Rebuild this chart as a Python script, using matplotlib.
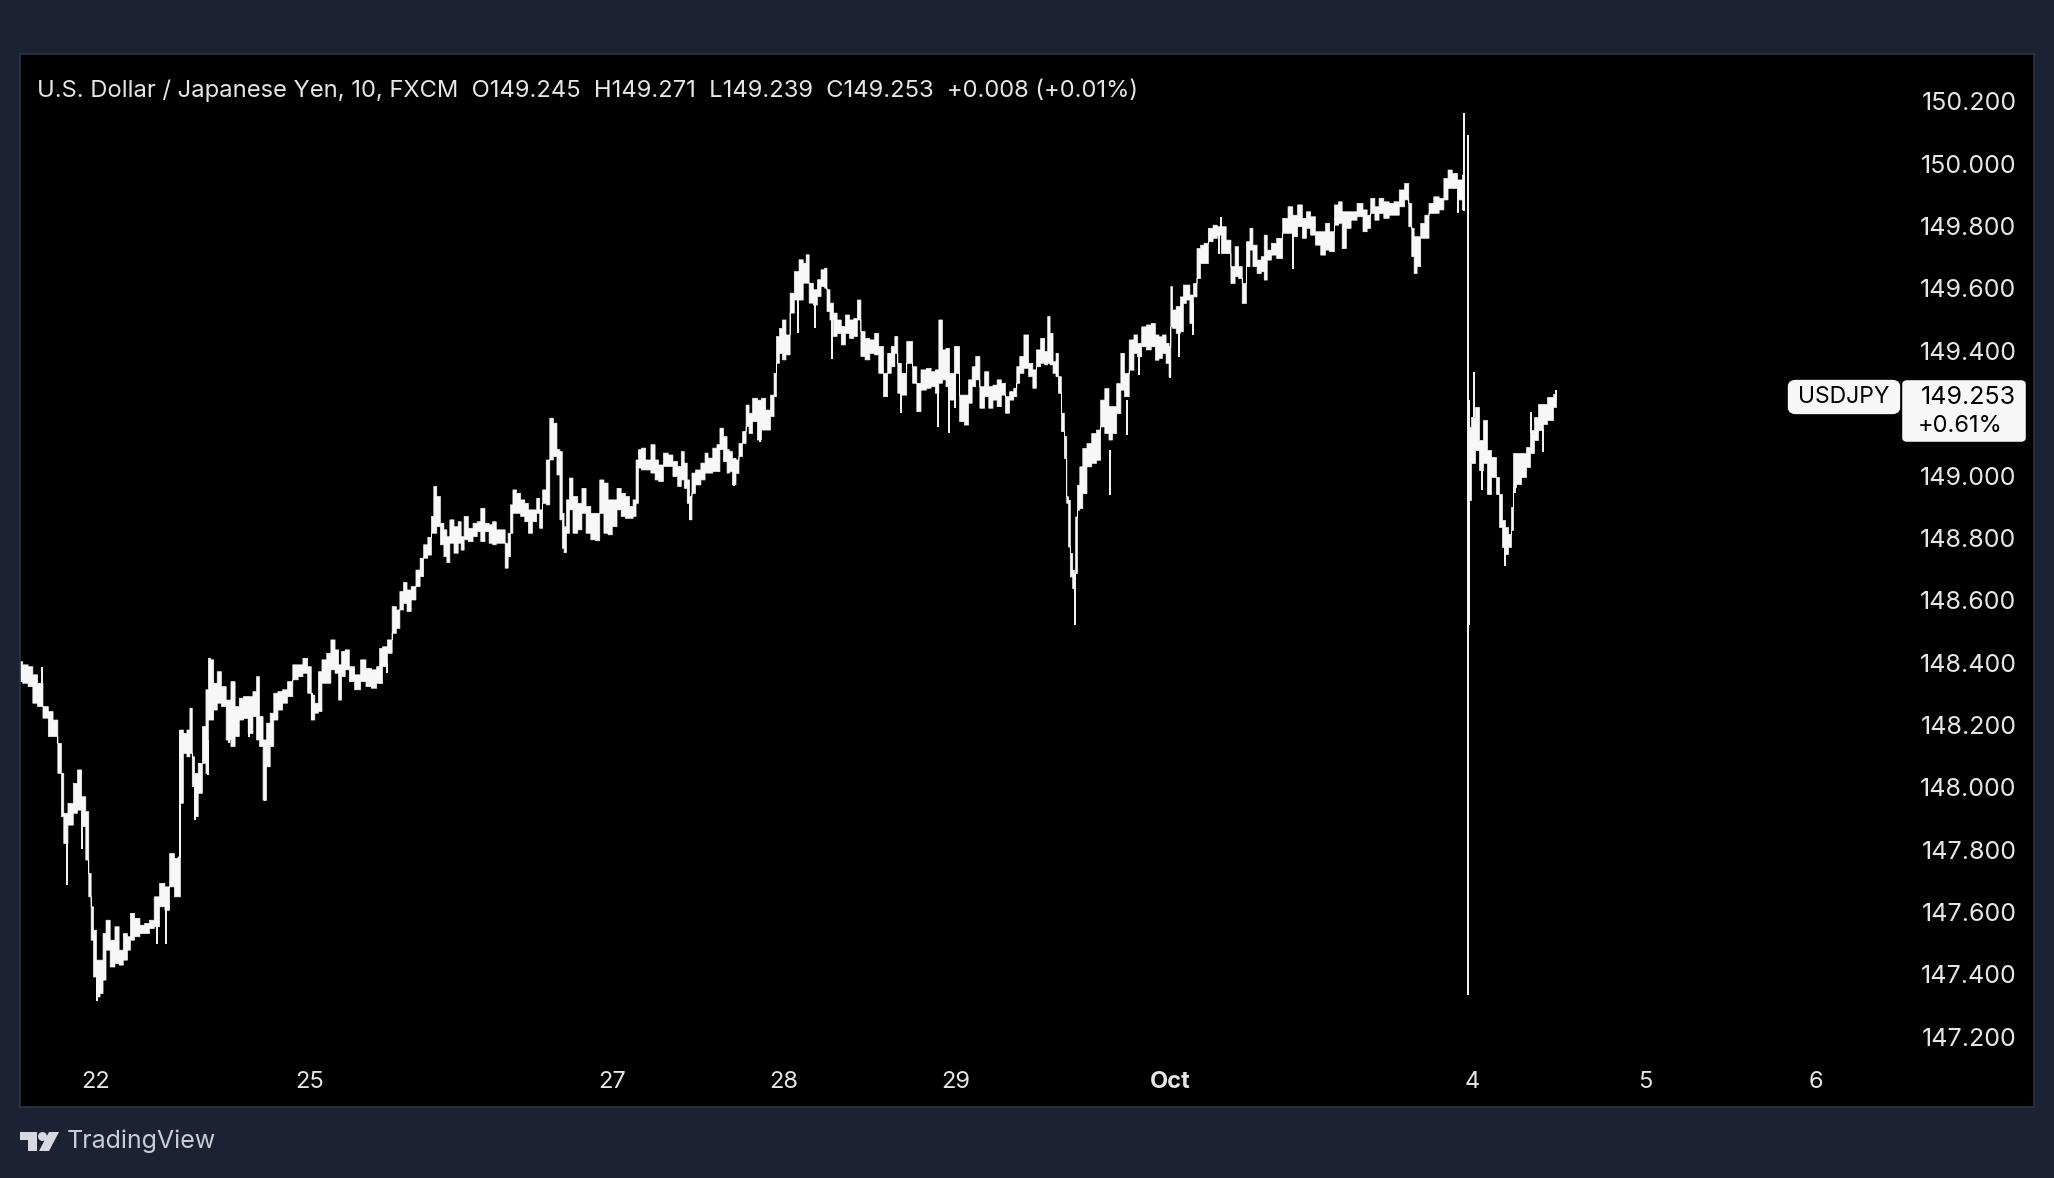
import matplotlib
matplotlib.use("Agg")
import matplotlib.pyplot as plt
import numpy as np
from matplotlib.patches import Circle, FancyBboxPatch, Polygon

plt.rcParams['font.family'] = ['Inter', 'DejaVu Sans']

# 10 minute bars, x is the bar number counted from the "22" tick
body_bar = [-64, -59, -55, -51, -47, -42, -38, -34, -30, -28, -26, -21, -17, -14, -10, -7, -5, -3, -1, 2,
            5, 7, 10, 14, 18, 21, 25, 28, 30, 35, 39, 43, 47, 51, 56, 60, 64, 68, 70, 72,
            75, 78, 80, 82, 84, 88, 91, 94, 95, 98, 100, 104, 107, 112, 115, 119, 122, 126, 130, 134,
            136, 139, 142, 145, 148, 151, 155, 159, 163, 168, 172, 176, 180, 182, 186, 188, 192, 196, 199, 203,
            205, 208, 211, 215, 220, 225, 229, 234, 238,
            239, 243, 247, 251, 254, 257, 260, 263, 267, 271, 274, 277, 281, 283, 285, 288, 291, 294, 296, 299,
            303, 306, 308, 311, 315, 319, 322, 325, 329, 332, 335, 338, 343, 345, 348, 349, 352, 355, 359, 362,
            365, 369, 372, 374, 377, 380, 383, 386, 389, 391, 393, 394, 397, 399, 403, 407, 410, 414, 418, 422,
            425, 429, 432, 436, 440, 443, 447, 450, 453, 455, 457, 460, 464, 469, 471, 475, 479, 483, 487, 491,
            493, 496, 498, 500, 502, 506, 511, 513, 516, 521, 523, 526, 529, 532,
            533, 537, 539, 542, 545, 548, 550, 554, 558, 561, 565, 569, 571, 573, 576, 578, 582, 585, 589, 593,
            596, 598, 601, 605, 608, 611, 614, 615, 619, 621, 625, 628, 632, 635, 639, 641, 645, 648, 653, 656,
            660, 664, 667, 670, 673, 675, 679, 684, 689, 691, 696, 700, 704, 707, 710, 713, 716, 719, 724, 728,
            732, 735, 738, 741, 745, 749, 752, 756, 759, 763, 766, 770, 773, 775, 778, 782, 786, 789, 792, 796,
            799, 801, 803, 806, 808, 810, 813, 815, 817,
            818, 820, 822, 823, 824, 826, 828, 831, 835, 839, 843, 846, 850, 853, 856, 860, 863, 866, 871, 874,
            877, 881, 885, 889, 892, 895, 898, 901, 903, 904, 906, 910,
            913, 915, 918, 921, 924, 927, 930, 933, 937, 941, 944, 948, 952, 956, 959, 962, 965, 969, 971, 974,
            978, 981, 983, 986, 990, 995, 1000, 1004, 1008, 1012, 1016, 1019, 1023, 1027, 1032, 1035, 1039, 1043, 1046, 1049,
            1053, 1057, 1063, 1067, 1070, 1073, 1077, 1080, 1085, 1089, 1093, 1098, 1102, 1105, 1107, 1109, 1112, 1115, 1119, 1122,
            1127, 1131, 1135, 1138, 1142, 1147, 1150, 1151,
            1154, 1158, 1161, 1164, 1168, 1171, 1175, 1178, 1181, 1183, 1185, 1188, 1190, 1192, 1196, 1200, 1204, 1207, 1210, 1214,
            1218, 1222, 1227]
body_high = [148.403, 148.393, 148.387, 148.361, 148.334, 148.259, 148.243, 148.216, 148.141, 148.045, 147.917, 147.949, 148.013, 148.056, 147.970, 147.922, 147.724, 147.617, 147.542, 147.446,
             147.446, 147.531, 147.574, 147.510, 147.553, 147.478, 147.531, 147.521, 147.596, 147.580, 147.558, 147.564, 147.574, 147.649, 147.692, 147.681, 147.788, 147.772, 147.777, 148.184,
             148.173, 148.184, 148.254, 148.098, 148.045, 148.077, 148.195, 148.313, 148.414, 148.409, 148.334, 148.371, 148.323, 148.280, 148.339, 148.259, 148.286, 148.291, 148.291, 148.307,
             148.355, 148.227, 148.152, 148.206, 148.238, 148.302, 148.307, 148.313, 148.339, 148.393, 148.393, 148.414, 148.387, 148.296, 148.270, 148.371, 148.409, 148.430, 148.473, 148.441,
             148.393, 148.436, 148.441, 148.387, 148.361, 148.409, 148.382, 148.377, 148.387,
             148.446, 148.451, 148.473, 148.580, 148.569, 148.628, 148.657, 148.633, 148.644, 148.697, 148.735, 148.778, 148.802, 148.869, 148.965, 148.933, 148.847, 148.826, 148.804, 148.858,
             148.836, 148.852, 148.804, 148.869, 148.831, 148.847, 148.852, 148.895, 148.847, 148.842, 148.852, 148.826, 148.826, 148.783, 148.815, 148.906, 148.954, 148.943, 148.922, 148.911,
             148.890, 148.890, 148.927, 148.890, 148.954, 149.050, 149.184, 149.168, 149.083, 149.077, 148.879, 148.836, 148.922, 148.992, 148.933, 148.911, 148.959, 148.901, 148.879, 148.879,
             148.986, 148.976, 148.922, 148.922, 148.959, 148.943, 148.933, 148.901, 148.922, 149.050, 149.083, 149.088, 149.050, 149.099, 149.050, 149.034, 149.072, 149.066, 149.045, 149.029,
             149.077, 149.040, 148.986, 148.933, 149.008, 149.018, 149.040, 149.072, 149.056, 149.088, 149.099, 149.152, 149.125, 149.083,
             149.077, 149.055, 149.050, 149.103, 149.141, 149.226, 149.200, 149.248, 149.242, 149.248, 149.210, 149.258, 149.328, 149.446, 149.472, 149.499, 149.451, 149.585, 149.654, 149.692,
             149.681, 149.708, 149.617, 149.596, 149.628, 149.660, 149.665, 149.596, 149.553, 149.521, 149.499, 149.478, 149.515, 149.499, 149.504, 149.563, 149.462, 149.440, 149.435, 149.456,
             149.414, 149.328, 149.392, 149.414, 149.446, 149.360, 149.328, 149.430, 149.349, 149.296, 149.339, 149.344, 149.333, 149.339, 149.499, 149.403, 149.408, 149.328, 149.414, 149.258,
             149.258, 149.307, 149.349, 149.382, 149.285, 149.333, 149.285, 149.290, 149.307, 149.296, 149.253, 149.269, 149.280, 149.349, 149.382, 149.451, 149.360, 149.339, 149.403, 149.440,
             149.398, 149.510, 149.456, 149.365, 149.392, 149.317, 149.200, 149.125, 148.932,
             148.921, 148.750, 148.696, 148.686, 148.867, 148.969, 149.028, 149.087, 149.103, 149.135, 149.146, 149.242, 149.279, 149.221, 149.221, 149.295, 149.392, 149.328, 149.435, 149.451,
             149.424, 149.477, 149.483, 149.488, 149.451, 149.445, 149.451, 149.424, 149.413, 149.606, 149.531, 149.542,
             149.573, 149.611, 149.611, 149.579, 149.616, 149.728, 149.739, 149.745, 149.793, 149.803, 149.798, 149.798, 149.755, 149.670, 149.734, 149.670, 149.616, 149.750, 149.793, 149.739,
             149.691, 149.702, 149.771, 149.723, 149.745, 149.761, 149.825, 149.862, 149.835, 149.868, 149.825, 149.846, 149.830, 149.782, 149.782, 149.809, 149.782, 149.868, 149.878, 149.846,
             149.846, 149.846, 149.873, 149.852, 149.835, 149.889, 149.862, 149.889, 149.878, 149.873, 149.878, 149.916, 149.937, 149.873, 149.793, 149.766, 149.766, 149.809, 149.835, 149.873,
             149.894, 149.889, 149.953, 149.980, 149.969, 149.948, 149.964, np.nan,
             149.156, 149.189, 149.221, 149.114, 149.178, 149.081, 149.060, 148.996, 148.942, 148.857, 148.835, 148.814, 148.900, 149.071, 149.071, 149.071, 149.092, 149.146, 149.189, 149.231,
             149.231, 149.253, 149.263]
body_low = [148.339, 148.334, 148.323, 148.270, 148.259, 148.222, 148.163, 148.163, 148.045, 147.906, 147.820, 147.879, 147.917, 147.927, 147.874, 147.767, 147.649, 147.510, 147.392, 147.328,
            147.339, 147.382, 147.478, 147.424, 147.435, 147.430, 147.446, 147.478, 147.510, 147.521, 147.531, 147.531, 147.547, 147.553, 147.617, 147.606, 147.681, 147.649, 147.649, 147.949,
            148.109, 148.098, 148.109, 148.002, 147.906, 147.981, 148.077, 148.045, 148.216, 148.216, 148.248, 148.270, 148.259, 148.152, 148.131, 148.163, 148.216, 148.221, 148.173, 148.227,
            148.152, 148.131, 147.959, 148.066, 148.131, 148.216, 148.248, 148.270, 148.291, 148.345, 148.355, 148.366, 148.302, 148.216, 148.238, 148.243, 148.334, 148.334, 148.377, 148.366,
            148.280, 148.355, 148.377, 148.339, 148.313, 148.339, 148.323, 148.318, 148.334,
            148.333, 148.387, 148.430, 148.494, 148.510, 148.569, 148.590, 148.564, 148.601, 148.644, 148.676, 148.735, 148.745, 148.815, 148.815, 148.836, 148.778, 148.740, 148.721, 148.783,
            148.751, 148.783, 148.761, 148.794, 148.788, 148.804, 148.820, 148.788, 148.820, 148.783, 148.778, 148.783, 148.783, 148.703, 148.740, 148.815, 148.879, 148.879, 148.869, 148.852,
            148.815, 148.852, 148.879, 148.831, 148.911, 148.906, 149.050, 149.061, 149.002, 148.858, 148.767, 148.753, 148.815, 148.890, 148.815, 148.826, 148.879, 148.815, 148.794, 148.791,
            148.879, 148.815, 148.810, 148.836, 148.890, 148.869, 148.863, 148.863, 148.869, 148.911, 149.024, 149.018, 149.018, 149.008, 148.986, 148.981, 149.029, 149.029, 148.997, 148.965,
            148.986, 148.959, 148.911, 148.858, 148.943, 148.970, 148.986, 149.008, 149.008, 149.013, 149.013, 149.083, 149.045, 149.008,
            149.012, 148.970, 149.007, 149.061, 149.103, 149.157, 149.135, 149.173, 149.114, 149.146, 149.146, 149.189, 149.253, 149.360, 149.392, 149.371, 149.387, 149.521, 149.563, 149.563,
            149.617, 149.617, 149.553, 149.547, 149.574, 149.606, 149.601, 149.526, 149.499, 149.446, 149.456, 149.419, 149.456, 149.440, 149.446, 149.499, 149.382, 149.371, 149.392, 149.387,
            149.328, 149.253, 149.328, 149.349, 149.392, 149.264, 149.258, 149.360, 149.296, 149.205, 149.274, 149.280, 149.285, 149.264, 149.296, 149.307, 149.285, 149.242, 149.328, 149.173,
            149.162, 149.232, 149.285, 149.307, 149.216, 149.253, 149.216, 149.242, 149.221, 149.258, 149.200, 149.242, 149.253, 149.296, 149.328, 149.344, 149.317, 149.280, 149.349, 149.360,
            149.355, 149.360, 149.355, 149.328, 149.317, 149.264, 149.141, 149.055, 148.911,
            148.771, 148.675, 148.637, 148.632, 148.686, 148.889, 148.894, 148.942, 149.028, 149.039, 149.049, 149.156, 149.135, 149.114, 149.135, 149.199, 149.274, 149.253, 149.338, 149.392,
            149.381, 149.413, 149.403, 149.413, 149.370, 149.376, 149.392, 149.360, 149.317, 149.477, 149.472, 149.456,
            149.461, 149.552, 149.563, 149.488, 149.573, 149.632, 149.680, 149.680, 149.750, 149.761, 149.771, 149.712, 149.712, 149.616, 149.638, 149.632, 149.552, 149.670, 149.723, 149.670,
            149.648, 149.654, 149.627, 149.691, 149.707, 149.696, 149.777, 149.777, 149.766, 149.798, 149.761, 149.793, 149.771, 149.739, 149.707, 149.723, 149.718, 149.803, 149.809, 149.728,
            149.793, 149.819, 149.830, 149.782, 149.793, 149.841, 149.819, 149.841, 149.825, 149.835, 149.835, 149.862, 149.884, 149.798, 149.702, 149.648, 149.670, 149.761, 149.761, 149.841,
            149.841, 149.852, 149.884, 149.921, 149.921, 149.884, 149.852, np.nan,
            148.921, 149.039, 149.081, 149.017, 149.039, 148.942, 148.996, 148.942, 148.835, 148.771, 148.750, 148.771, 148.825, 148.964, 148.974, 148.996, 149.028, 149.071, 149.114, 149.146,
            149.167, 149.178, 149.221]

# thin wicks sticking out of the body
wick_bar = [-45, -24, -12, 1, 51, 59, 71, 83, 94, 112, 129, 136, 142, 182, 205, 245, 499,
            536, 558, 590, 604, 619, 677, 708, 717, 722, 823, 852, 867, 877, 903, 910, 922, 944, 946, 1006, 1145,
            1150, 1153, 1154, 1158, 1165, 1184, 1193, 1206, 1216, 1227]
wick_high = [148.385, 147.831, 147.917, 147.403, 147.617, 147.617, 148.184, 148.013, 148.152, 148.205, 148.280, 148.355, 148.120, 148.302, 148.366, 148.398, 148.922,
             149.018, 149.178, 149.563, 149.553, 149.499, 149.285, 149.285, 149.296, 149.328, 148.686, 149.081, 149.242, 149.381, 149.370, 149.467, 149.552, 149.771, 149.830, 149.777, 149.916,
             150.163, 150.092, 149.243, 149.333, 149.017, 148.771, 148.964, 149.205, 149.146, 149.274]
wick_low = [148.280, 147.687, 147.804, 147.315, 147.499, 147.499, 147.777, 147.895, 148.040, 148.141, 148.163, 148.227, 147.957, 148.216, 148.280, 148.366, 148.856,
            148.967, 149.109, 149.456, 149.472, 149.373, 149.202, 149.157, 149.138, 149.216, 148.520, 148.937, 149.130, 149.322, 149.314, 149.381, 149.450, 149.712, 149.771, 149.664, 149.843,
            149.850, 147.335, 148.520, 149.189, 148.955, 148.710, 148.945, 149.135, 149.076, 149.242]

price_ticks = [147.2, 147.4, 147.6, 147.8, 148.0, 148.2, 148.4, 148.6, 148.8, 149.0, 149.4, 149.6, 149.8, 150.0, 150.2]
date_bars = [0, 180, 434, 578, 723, 903, 1157, 1302, 1446]
date_labels = ['22', '25', '27', '28', '29', 'Oct', '4', '5', '6']

title = 'U.S. Dollar / Japanese Yen, 10, FXCM  O149.245  H149.271  L149.239  C149.253  +0.008 (+0.01%)'

W, H = 2054, 1178
BG = '#1a2233'
LINE = '#f7f7f7'
TEXT = '#e6e6e6'


def fx(x):
    return x / W


def fy(y):
    return 1 - y / H


fig = plt.figure(figsize=(W / 100, H / 100), dpi=100, facecolor=BG)
ax = fig.add_axes([fx(20), fy(1107), fx(2034) - fx(20), fy(54) - fy(1107)], facecolor='black')
ax.set_xlim(-63.8, 1629)
ax.set_ylim(146.975, 150.352)

ax.fill_between(body_bar, body_low, body_high, step='mid', color=LINE, lw=0.5)
ax.vlines(wick_bar, wick_low, wick_high, color=LINE, lw=1.4)

for s in ax.spines.values():
    s.set_color('#2b3242')
    s.set_linewidth(1.2)

ax.yaxis.tick_right()
ax.set_yticks(price_ticks)
ax.set_yticklabels(['%.3f' % p for p in price_ticks], ha='right')
ax.tick_params(axis='y', length=0, pad=-12.6, labelsize=18, labelcolor=TEXT)
ax.set_xticks(date_bars)
ax.set_xticklabels(date_labels)
ax.tick_params(axis='x', length=0, pad=-26, labelsize=17, labelcolor=TEXT)
ax.get_xticklabels()[5].set_fontweight('bold')

fig.text(fx(37), fy(90), title, color=TEXT, fontsize=17.1, va='center')

# last price labels
fig.add_artist(FancyBboxPatch((fx(1792), fy(410)), fx(104), fy(384) - fy(410), transform=fig.transFigure,
                              boxstyle='round,pad=0,rounding_size=0.002', fc='#f7f7f7', ec='#f7f7f7', lw=6))
fig.add_artist(FancyBboxPatch((fx(1905), fy(439)), fx(118), fy(383) - fy(439), transform=fig.transFigure,
                              boxstyle='round,pad=0,rounding_size=0.001', fc='#f7f7f7', ec='#f7f7f7', lw=4))
fig.text(fx(1844), fy(397), 'USDJPY', color='black', fontsize=16.5, ha='center', va='center')
fig.text(fx(2016), fy(397), '149.253', color='black', fontsize=18, ha='right', va='center')
fig.text(fx(1918), fy(426), '+0.61%', color='black', fontsize=17, ha='left', va='center')

# TradingView mark and name
fig.add_artist(Polygon([(fx(20), fy(1132)), (fx(37), fy(1132)), (fx(37), fy(1151)), (fx(28), fy(1151)),
                        (fx(28), fy(1140)), (fx(20), fy(1140))], transform=fig.transFigure, fc='#d6d9e0', ec='none'))
fig.add_artist(Polygon([(fx(49), fy(1132)), (fx(59), fy(1132)), (fx(49), fy(1151)), (fx(39), fy(1151))],
                       transform=fig.transFigure, fc='#d6d9e0', ec='none'))
# dot of the mark, drawn in pixels so it stays round
fig.add_artist(Circle((42.5, H - 1136.5), 4.5, transform=None, fc='#d6d9e0', ec='none'))
fig.text(fx(67), fy(1141), 'TradingView', color='#c9cdd6', fontsize=18, va='center')

fig.savefig('out.png', dpi=100, facecolor=BG)
